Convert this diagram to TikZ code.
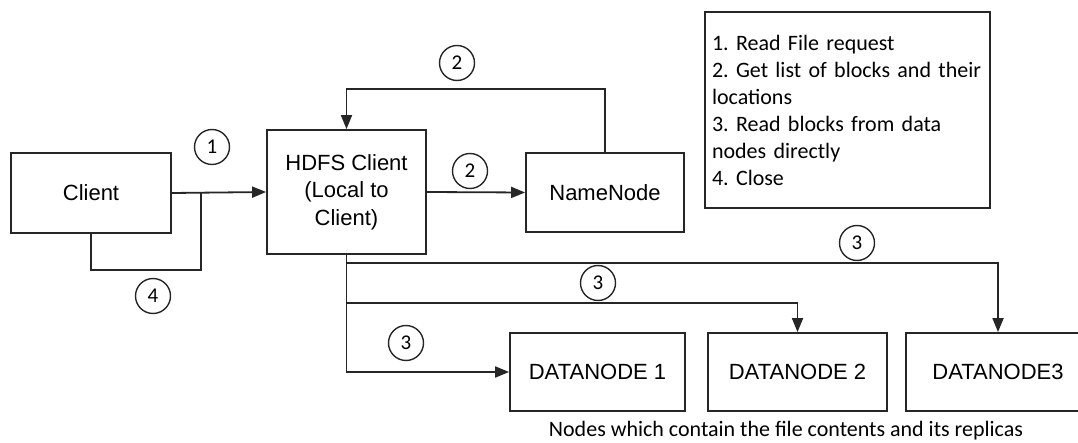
\documentclass[tikz,border=0pt]{standalone}
\usepackage{fontspec}
\setmainfont{Liberation Sans}
\newfontfamily\calibri{Carlito}
\usetikzlibrary{arrows.meta, positioning}

\begin{document}
\frenchspacing
\begin{tikzpicture}[x=1pt, y=-1pt,
    box/.style={draw=black!85, line width=1.8pt, rectangle, align=center, inner sep=0pt, font=\fontsize{22}{27.5}\selectfont},
    num/.style={draw=black!85, line width=1.4pt, circle, minimum size=35pt, inner sep=0pt, font=\calibri\fontsize{21}{21}\selectfont},
    link/.style={draw=black!85, line width=1.8pt},
    arr/.style={link, -{Triangle[length=14pt, width=11pt]}}]
    \clip (0,0) rectangle (1078,443);
    % Client side
    \node[box, minimum width=160pt, minimum height=80pt] (client) at (91,193) {Client};
    \node[box, minimum width=159pt, minimum height=124pt] (hdfs) at (346.5,192) {HDFS Client\\(Local to\\Client)};
    \node[box, minimum width=158pt, minimum height=79pt] (namenode) at (605,192.5) {NameNode};
    % Legend
    \node[draw=black!85, line width=1.8pt, minimum width=285pt, minimum height=196pt, text width=271pt, inner sep=7pt, align=left, font=\calibri\fontsize{22}{27}\selectfont] (legend) at (847.5,110) {1. Read File request\\2. Get list of blocks and their\\locations\\3. Read blocks from data\\nodes directly\\4. Close};
    % Data nodes
    \node[box, minimum width=175pt, minimum height=78pt] (dn1) at (597.5,372) {DATANODE 1};
    \node[box, minimum width=179pt, minimum height=78pt] (dn2) at (797.5,372) {DATANODE 2};
    \node[box, minimum width=184pt, minimum height=78pt] (dn3) at (998,372) {DATANODE3};
    \node[anchor=base, font=\calibri\fontsize{22}{22}\selectfont] (caption) at (786,436) {Nodes which contain the file contents and its replicas};

    % Step numbers
    \node[num] (c1) at (212,147) {1};
    \node[num] (c2a) at (457,63) {2};
    \node[num] (c2b) at (470,171) {2};
    \node[num] (c3a) at (857,243) {3};
    \node[num] (c3b) at (598,283) {3};
    \node[num] (c3c) at (406,343) {3};
    \node[num] (c4) at (153,296) {4};

    % Arrows
    \coordinate (j4) at (201,193);
    \draw[arr] (client.east) -- (hdfs.west);
    \draw[link] (client.south) -- ++(0,36) -| (j4);
    \draw[arr] (hdfs.east) -- (namenode.west);
    \draw[arr] (namenode.north) -- ++(0,-63) -| (hdfs.north);
    \draw[arr] (hdfs.south) |- (dn1.west);
    \draw[arr] ([yshift=-8pt]hdfs.south) -| (dn3.north);
    \draw[arr] ([yshift=-48pt]hdfs.south) -| (dn2.north);
\end{tikzpicture}
\end{document}
